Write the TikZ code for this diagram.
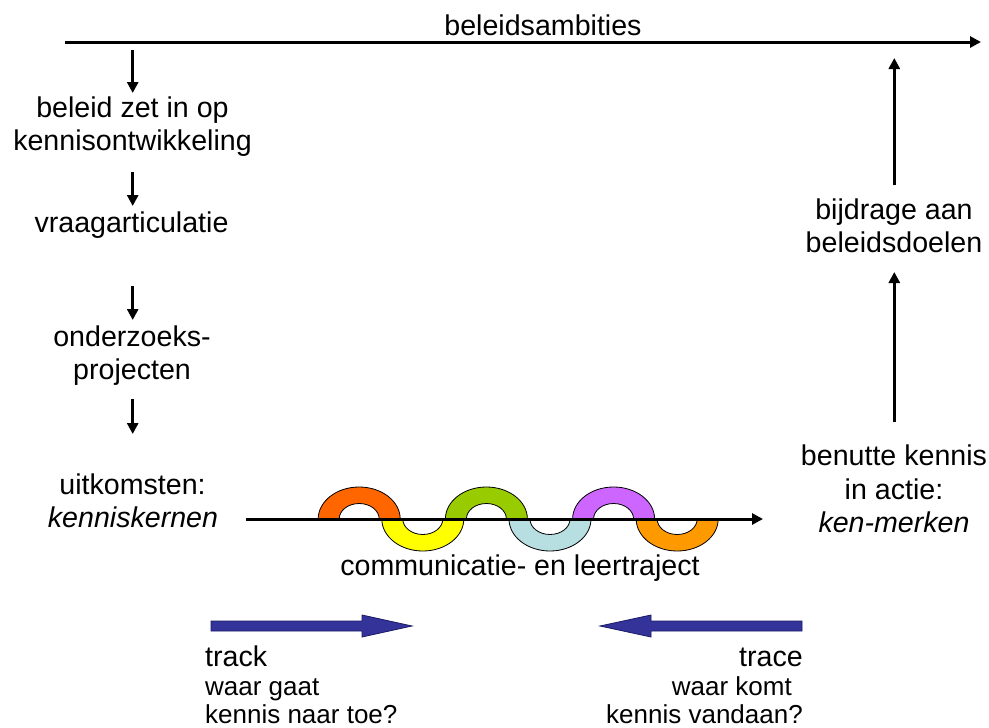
\documentclass[tikz,border=0pt]{standalone}
\usepackage{fontspec}
\setmainfont{Liberation Sans}
\usetikzlibrary{arrows.meta}
\definecolor{cOrange}{HTML}{FF6600}
\definecolor{cYellow}{HTML}{FFFF00}
\definecolor{cGreen}{HTML}{99CC00}
\definecolor{cBlue}{HTML}{B7DEE0}
\definecolor{cPurple}{HTML}{CC66FF}
\definecolor{cOrangeB}{HTML}{FF9900}
\definecolor{navy}{HTML}{333399}
\definecolor{navyline}{HTML}{1A1A66}
\tikzset{
  lbl/.style={inner sep=0pt, anchor=base, font=\fontsize{28.6}{33}\selectfont},
  lblsmall/.style={inner sep=0pt, font=\fontsize{26}{29}\selectfont},
  flow/.style={line width=3pt, -{Triangle[width=11pt,length=11pt]}},
  band/.style={draw=black, line width=0.8pt},
  bigarrow/.style={fill=navy, draw=navyline, line width=0.8pt},
}
\begin{document}
\begin{tikzpicture}[x=1pt,y=-1pt]
\useasboundingbox (0,0) rectangle (989,728);

% top axis
\coordinate (topL) at (65,42);
\coordinate (topR) at (981,42);
\draw[flow] (topL) -- (topR);
\node[lbl] (ambities) at (543,35) {beleidsambities};

% left column
\node[lbl] (l1a) at (132.5,117) {beleid zet in op};
\node[lbl] (l1b) at (132.5,150) {kennisontwikkeling};
\node[lbl] (l2) at (131.5,232) {vraagarticulatie};
\node[lbl] (l3a) at (132,346) {onderzoeks-};
\node[lbl] (l3b) at (132,379) {projecten};
\node[lbl] (l4a) at (132.5,494) {uitkomsten:};
\node[lbl,font=\fontsize{28.6}{33}\selectfont\itshape] (l4b) at (133,527) {kenniskernen};

\coordinate (a1s) at (132.7,50);   \coordinate (a1e) at (132.7,93);
\coordinate (a2s) at (132.7,172);  \coordinate (a2e) at (132.7,206);
\coordinate (a3s) at (132.7,286);  \coordinate (a3e) at (132.7,320);
\coordinate (a4s) at (132.7,399);  \coordinate (a4e) at (132.7,434);
\draw[flow] (a1s) -- (a1e);
\draw[flow] (a2s) -- (a2e);
\draw[flow] (a3s) -- (a3e);
\draw[flow] (a4s) -- (a4e);

% right column
\node[lbl] (r1a) at (894,219) {bijdrage aan};
\node[lbl] (r1b) at (894,252) {beleidsdoelen};
\node[lbl] (r2a) at (894,465) {benutte kennis};
\node[lbl] (r2b) at (894,499) {in actie:};
\node[lbl,font=\fontsize{28.6}{33}\selectfont\itshape] (r2c) at (894,532) {ken-merken};

\coordinate (b1s) at (894.3,185);  \coordinate (b1e) at (894.3,58);
\coordinate (b2s) at (894.3,422);  \coordinate (b2e) at (894.3,272);
\draw[flow] (b1s) -- (b1e);
\draw[flow] (b2s) -- (b2e);

% wave bands
\foreach \cx/\col in {359.2/cOrange, 486.4/cGreen, 613.6/cPurple}{
  \draw[band, fill=\col] (\cx-41,519) arc[start angle=180, end angle=360, x radius=41, y radius=32]
    -- (\cx+20,519) arc[start angle=0, end angle=-180, x radius=20, y radius=15.5] -- cycle;
}
\foreach \cx/\col in {422.8/cYellow, 550/cBlue, 677.2/cOrangeB}{
  \draw[band, fill=\col] (\cx-41,519) arc[start angle=180, end angle=0, x radius=41, y radius=32]
    -- (\cx+20,519) arc[start angle=0, end angle=180, x radius=20, y radius=15.5] -- cycle;
}
\coordinate (midL) at (246,519);
\coordinate (midR) at (763,519);
\draw[flow] (midL) -- (midR);
\node[lbl] (comm) at (520,575) {communicatie- en leertraject};

% blue arrows
\draw[bigarrow] (211,621) -- (362,621) -- (362,615) -- (412,626) -- (362,637) -- (362,631) -- (211,631) -- cycle;
\draw[bigarrow] (802,621) -- (651,621) -- (651,615) -- (600,626) -- (651,637) -- (651,631) -- (802,631) -- cycle;

% track / trace texts
\node[lbl,anchor=base west] (track) at (205,666) {track};
\node[lblsmall,anchor=base west] (tr1) at (205,695) {waar gaat};
\node[lblsmall,anchor=base west] (tr2) at (205,723) {kennis naar toe?};
\node[lbl,anchor=base east] (trace) at (803,666) {trace};
\node[lblsmall,anchor=base east] (tc1) at (792,695) {waar komt};
\node[lblsmall,anchor=base east] (tc2) at (803,723) {kennis vandaan?};
\end{tikzpicture}
\end{document}
